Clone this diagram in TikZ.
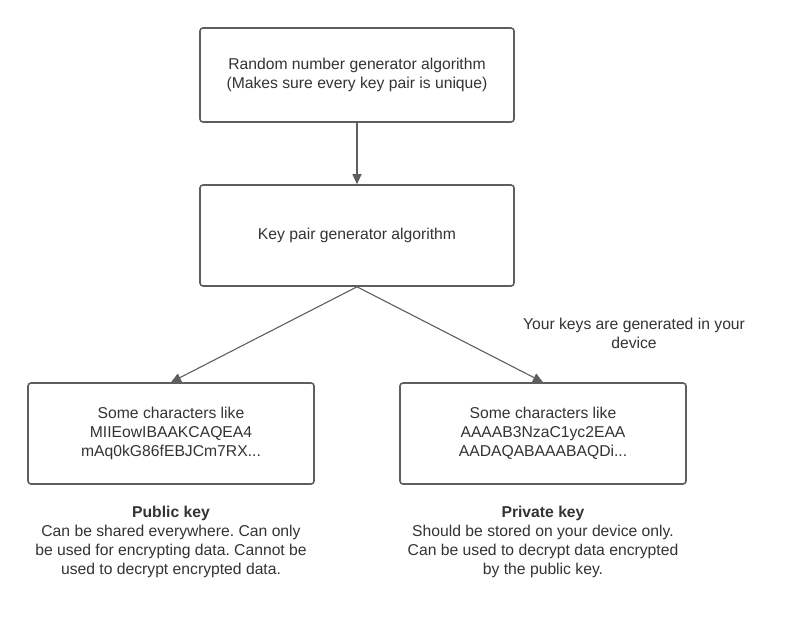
\documentclass[tikz,border=0pt]{standalone}
\usepackage{fontspec}
\setmainfont{Liberation Sans}
\usetikzlibrary{arrows.meta,positioning}
\definecolor{edge}{HTML}{5E5E5E}
\definecolor{ink}{HTML}{333333}
\frenchspacing

\begin{document}
\begin{tikzpicture}[x=1pt,y=-1pt,
  every node/.style={font=\fontsize{15.7}{19}\selectfont, text=ink, align=center},
  box/.style={draw=edge, line width=1.6pt, rounded corners=3pt, minimum width=314pt, minimum height=94pt},
  keybox/.style={box, minimum width=286pt, minimum height=101pt},
  link/.style={draw=edge, line width=1.1pt, -{Triangle[length=10pt,width=9pt]}}]
\useasboundingbox (0,0) rectangle (800,627);
\node[box] (Rng) at (357,75) {Random number generator algorithm\\(Makes sure every key pair is unique)};
\node[box, minimum height=101pt] (Gen) at (357,235.5) {Key pair generator algorithm};
\node[keybox] (Pub) at (171,433.5) {Some characters like\\MIIEowIBAAKCAQEA4\\mAq0kG86fEBJCm7RX...};
\node[keybox] (Priv) at (543,433.5) {Some characters like\\AAAAB3NzaC1yc2EAA\\AADAQABAAABAQDi...};
\node (Note) at (634,333) {Your keys are generated in your\\device};
\node[anchor=north] (PubText) at (171,503) {\textbf{Public key}\\Can be shared everywhere. Can only\\be used for encrypting data. Cannot be\\used to decrypt encrypted data.};
\node[anchor=north] (PrivText) at (543,503) {\textbf{Private key}\\Should be stored on your device only.\\Can be used to decrypt data encrypted\\by the public key.};
\draw[link] (Rng) -- (Gen);
\draw[link] (Gen.south) -- (Pub.north);
\draw[link] (Gen.south) -- (Priv.north);
\end{tikzpicture}
\end{document}
